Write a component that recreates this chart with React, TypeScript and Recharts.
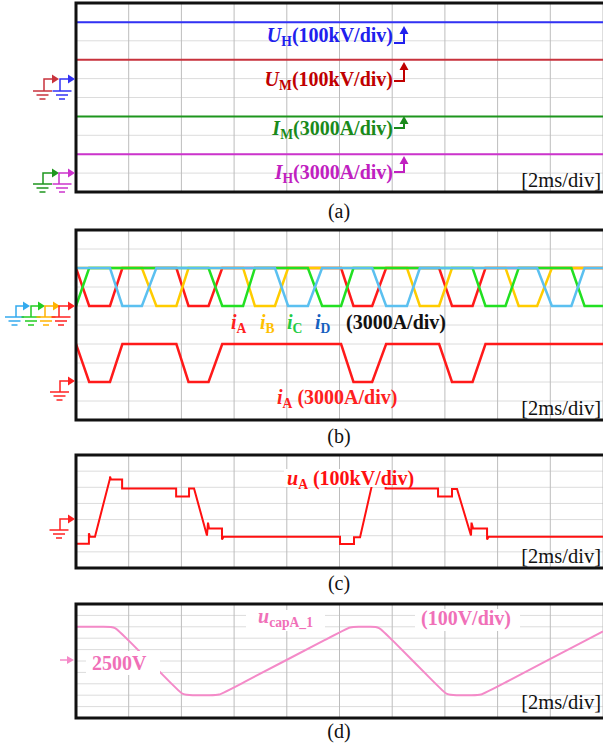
import React from 'react';
import { LineChart, Line, XAxis, YAxis, ReferenceLine } from 'recharts';

type Pt = [number, number];

// time axis: 2 ms/div, 10 div
const timeTicks = [0, 2, 4, 6, 8, 10, 12, 14, 16, 18, 20];

// (a) flat traces, [t ms, value]
const uH: Pt[] = [[0, 298], [20, 298]]; // kV
const uM: Pt[] = [[0, 100], [20, 100]]; // kV
const iM: Pt[] = [[0, 9000], [20, 9000]]; // A
const iH: Pt[] = [[0, 3000], [20, 3000]]; // A
const kvTicksA = [-600, -500, -400, -300, -200, -100, 0, 100, 200, 300, 400];

// (b) arm currents, A
const iA: Pt[] = [
  [0, 6000], [0.5, 0], [1.29, 0], [1.76, 6000], [3.81, 6000], [4.27, 0], [5.03, 0], [5.55, 6000],
  [10.06, 6000], [10.53, 0], [11.24, 0], [11.77, 6000], [13.78, 6000], [14.27, 0], [15.05, 0], [15.54, 6000], [20, 6000],
];
const iB: Pt[] = [
  [0, 6000], [2.5, 6000], [3.05, 0], [3.81, 0], [4.27, 6000], [6.34, 6000], [6.79, 0], [7.55, 0], [8.05, 6000],
  [12.56, 6000], [13.05, 0], [13.78, 0], [14.27, 6000], [16.3, 6000], [16.8, 0], [17.5, 0], [18.06, 6000], [20, 6000],
];
const iC: Pt[] = [
  [0, 0], [0.5, 6000], [5.03, 6000], [5.55, 0], [6.34, 0], [6.79, 6000], [8.8, 6000], [9.34, 0], [10.06, 0],
  [10.53, 6000], [15.05, 6000], [15.54, 0], [16.3, 0], [16.8, 6000], [18.8, 6000], [19.3, 0], [20, 0],
];
const iD: Pt[] = [
  [0, 6000], [1.29, 6000], [1.76, 0], [2.5, 0], [3.05, 6000], [7.55, 6000], [8.05, 0], [8.8, 0], [9.34, 6000],
  [11.24, 6000], [11.77, 0], [12.56, 0], [13.05, 6000], [17.5, 6000], [18.06, 0], [18.8, 0], [19.3, 6000], [20, 6000],
];
const aTicksB = [-18000, -15000, -12000, -9000, -6000, -3000, 0, 3000, 6000, 9000, 12000];

// (c) arm voltage, kV
const uA: Pt[] = [
  [0, -150], [0.49, -150], [0.49, -85], [0.53, -106], [0.72, -106], [1.29, 255], [1.29, 267], [1.33, 248],
  [1.75, 248], [1.75, 193], [3.8, 193], [3.8, 143], [4.29, 143], [4.29, 193], [4.48, 193], [4.97, -99],
  [5.01, -19], [5.05, -56], [5.54, -56], [5.54, -124], [5.6, -106], [10.02, -106], [10.02, -152], [10.55, -152],
  [10.55, -110], [10.78, -110], [11.29, 255], [11.29, 267], [11.33, 248], [11.75, 248], [11.75, 193], [13.74, 193],
  [13.74, 143], [14.27, 143], [14.27, 190], [14.46, 190], [14.99, -99], [15.01, -19], [15.07, -56], [15.6, -56],
  [15.6, -124], [15.66, -106], [20, -106],
];
const kvTicksC = [-300, -200, -100, 0, 100, 200, 300, 400];

// (d) capacitor voltage, V
const uCap: Pt[] = [
  [0, 2800], [1.2, 2800], [1.48, 2800], [1.76, 2735], [3.78, 2265], [4.06, 2200], [4.34, 2200], [5.15, 2200],
  [5.43, 2200], [5.71, 2234], [10.12, 2766], [10.4, 2800], [10.68, 2800], [11.22, 2800], [11.5, 2800],
  [11.78, 2735], [13.8, 2265], [14.08, 2200], [14.36, 2200], [15.09, 2200], [15.37, 2200], [15.65, 2234], [20, 2759],
];
const vTicksD = [2000, 2100, 2200, 2300, 2400, 2500, 2600, 2700, 2800, 2900, 3000];

const pts = (a: Pt[]) => a.map(([t, v]) => ({ t, v }));

const SERIF = '"Liberation Serif", "Times New Roman", serif';
const PINK = '#f48ac8';

const hidX = (
  <XAxis dataKey="t" type="number" domain={[0, 20]} ticks={timeTicks} height={0} tick={false}
    axisLine={false} tickLine={false} allowDataOverflow />
);

function yAx(id: string, domain: [number, number]) {
  return (
    <YAxis yAxisId={id} type="number" domain={domain} width={0} tick={false}
      axisLine={false} tickLine={false} allowDataOverflow />
  );
}

// scope graticule drawn through the axis scales
function grids(id: string, yTicks: number[]) {
  return [
    ...yTicks.map((v) => (
      <ReferenceLine key={'h' + v} yAxisId={id} y={v} stroke="#dcdcdc" strokeWidth={1} ifOverflow="extendDomain" />
    )),
    ...timeTicks.map((t) => (
      <ReferenceLine key={'v' + t} yAxisId={id} x={t} stroke="#bdbdbd" strokeWidth={1} ifOverflow="extendDomain" />
    )),
  ];
}

function trace(id: string, d: Pt[], color: string, w = 2, type: any = 'linear') {
  return (
    <Line yAxisId={id} data={pts(d)} dataKey="v" type={type} stroke={color} strokeWidth={w}
      dot={false} activeDot={false} isAnimationActive={false} />
  );
}

function Gnd({ x, y, c, vx, ay, tip }: { x: number; y: number; c: string; vx: number; ay: number; tip: number }) {
  return (
    <g stroke={c} strokeWidth={1.5} fill="none">
      <line x1={x - 9.5} y1={y} x2={x + 9.5} y2={y} />
      <line x1={x - 6} y1={y + 4} x2={x + 6} y2={y + 4} />
      <line x1={x - 3} y1={y + 8} x2={x + 3} y2={y + 8} />
      <path d={`M${vx} ${y} V${ay} H${tip - 6}`} />
      <polygon points={`${tip},${ay} ${tip - 7},${ay - 4.5} ${tip - 7},${ay + 4.5}`} fill={c} stroke="none" />
    </g>
  );
}

function StepArrow({ x, base, top, c }: { x: number; base: number; top: number; c: string }) {
  return (
    <g stroke={c} strokeWidth={2} fill="none">
      <path d={`M${x - 10} ${base} H${x} V${top + 6}`} />
      <polygon points={`${x},${top} ${x - 4.5},${top + 8} ${x + 4.5},${top + 8}`} fill={c} stroke="none" />
    </g>
  );
}

function Lbl({ x, y, c, main, sub, rest, anchor = 'start', size = 20 }: any) {
  return (
    <text x={x} y={y} fill={c} fontFamily={SERIF} fontWeight="bold" fontSize={size} textAnchor={anchor}>
      <tspan fontStyle="italic">{main}</tspan>
      <tspan dy={4} fontSize={size * 0.68}>{sub}</tspan>
      <tspan dy={-4}>{rest}</tspan>
    </text>
  );
}

const frames: [number, number][] = [[3, 192], [230, 420], [455, 568], [604, 718]];

export default function App() {
  return (
    <div style={{ position: 'absolute', left: 0, top: 0, width: 603, height: 746, overflow: 'hidden', background: '#fff' }}>
      {/* (a) */}
      <div style={{ position: 'absolute', left: 0, top: 0 }}>
        <LineChart width={603} height={195} margin={{ top: 3, right: 0, bottom: 3, left: 76 }}>
          {hidX}
          {yAx('kV', [-600, 400])}
          {yAx('A', [-3000, 27000])}
          {grids('kV', kvTicksA)}
          {trace('kV', uH, '#3232f5')}
          {trace('kV', uM, '#c8323c')}
          {trace('A', iM, '#1e961e')}
          {trace('A', iH, '#cc33cc')}
        </LineChart>
      </div>
      {/* (b) */}
      <div style={{ position: 'absolute', left: 0, top: 227 }}>
        <LineChart width={603} height={196} margin={{ top: 3, right: 0, bottom: 3, left: 76 }}>
          {hidX}
          {yAx('p', [-18000, 12000])}
          {yAx('q', [-6000, 24000])}
          {grids('p', aTicksB)}
          {trace('p', iA, '#ff1a1a', 2.5)}
          {trace('p', iB, '#ffcc00', 2.5)}
          {trace('p', iC, '#22e022', 2.5)}
          {trace('p', iD, '#5bc0f0', 2.5)}
          {trace('q', iA, '#ff1a1a', 2.5)}
        </LineChart>
      </div>
      {/* (c) */}
      <div style={{ position: 'absolute', left: 0, top: 452 }}>
        <LineChart width={603} height={119} margin={{ top: 3, right: 0, bottom: 3, left: 76 }}>
          {hidX}
          {yAx('kV', [-300, 400])}
          {grids('kV', kvTicksC)}
          {trace('kV', uA, '#ff1010', 2)}
        </LineChart>
      </div>
      {/* (d) */}
      <div style={{ position: 'absolute', left: 0, top: 601 }}>
        <LineChart width={603} height={120} margin={{ top: 3, right: 0, bottom: 3, left: 76 }}>
          {hidX}
          {yAx('V', [2000, 3000])}
          {grids('V', vTicksD)}
          {trace('V', uCap, PINK, 2, 'basis')}
        </LineChart>
      </div>

      <svg width={603} height={746} style={{ position: 'absolute', left: 0, top: 0, pointerEvents: 'none' }}>
        {frames.map(([t, b], i) => (
          <path key={i} d={`M605 ${t} H76 V${b} H605`} stroke="#111" strokeWidth={3} fill="none" />
        ))}

        {/* (a) markers and labels */}
        <Gnd x={42.5} y={91} c="#c8323c" vx={44} ay={79} tip={59} />
        <Gnd x={62} y={91} c="#3232f5" vx={60} ay={79} tip={75} />
        <Gnd x={42.5} y={184} c="#1e961e" vx={43} ay={173} tip={59} />
        <Gnd x={62} y={184} c="#cc33cc" vx={59} ay={173} tip={75} />
        <Lbl x={393} y={42} c="#2020ee" main="U" sub="H" rest="(100kV/div)" anchor="end" />
        <Lbl x={393} y={86} c="#c00000" main="U" sub="M" rest="(100kV/div)" anchor="end" />
        <Lbl x={393} y={135} c="#1a8a1a" main="I" sub="M" rest="(3000A/div)" anchor="end" />
        <Lbl x={393} y={179} c="#c020c0" main="I" sub="H" rest="(3000A/div)" anchor="end" />
        <StepArrow x={404} base={43} top={26} c="#2020ee" />
        <StepArrow x={404} base={81} top={62} c="#c00000" />
        <StepArrow x={404} base={128} top={116} c="#1a8a1a" />
        <StepArrow x={404} base={172} top={156} c="#c020c0" />

        {/* (b) */}
        <Gnd x={14.5} y={317} c="#33aaee" vx={16} ay={306} tip={30} />
        <Gnd x={31} y={317} c="#22cc22" vx={31} ay={306} tip={45} />
        <Gnd x={46} y={317} c="#ffb300" vx={45} ay={306} tip={60} />
        <Gnd x={61} y={317} c="#ff2020" vx={59} ay={306} tip={75} />
        <Gnd x={59.5} y={392} c="#ff2020" vx={60} ay={381} tip={75} />
        <Lbl x={231} y={329} c="#ff2020" main="i" sub="A" rest="" />
        <Lbl x={260} y={329} c="#ffc000" main="i" sub="B" rest="" />
        <Lbl x={287} y={329} c="#22cc44" main="i" sub="C" rest="" />
        <Lbl x={315} y={329} c="#1560c0" main="i" sub="D" rest="" />
        <text x={346} y={329} fill="#111" fontFamily={SERIF} fontWeight="bold" fontSize={20}>(3000A/div)</text>
        <Lbl x={277} y={404} c="#ff2020" main="i" sub="A" rest=" (3000A/div)" />

        {/* (c) */}
        <Gnd x={59} y={530} c="#ff2020" vx={60} ay={519} tip={75} />
        <rect x={284} y={469} width={104} height={18} fill="#fff" />
        <Lbl x={287} y={485} c="#ff1010" main="u" sub="A" rest=" (100kV/div)" />

        {/* (d) */}
        <g stroke={PINK} strokeWidth={1.5} fill={PINK}>
          <line x1={60} y1={660} x2={68} y2={660} />
          <polygon points="74,660 67,656 67,664" stroke="none" />
        </g>
        <rect x={86} y={651} width={74} height={24} fill="#fff" />
        <rect x={246} y={610} width={79} height={21} fill="#fff" />
        <rect x={415} y={609} width={105} height={22} fill="#fff" />
        <text x={92} y={670} fill="#f070b8" fontFamily={SERIF} fontWeight="bold" fontSize={20}>2500V</text>
        <Lbl x={258} y={623} c="#f070b8" main="u" sub="capA_1" rest="" />
        <text x={421} y={625} fill="#f070b8" fontFamily={SERIF} fontWeight="bold" fontSize={20}>(100V/div)</text>

        {/* time base and captions */}
        {[187, 415, 563, 709].map((y, i) => (
          <text key={i} x={601} y={y} textAnchor="end" fill="#111" fontFamily={SERIF} fontSize={20.5}>[2ms/div]</text>
        ))}
        {[['(a)', 218], ['(b)', 443], ['(c)', 590], ['(d)', 738]].map(([s, y]) => (
          <text key={s as string} x={339} y={y as number} textAnchor="middle" fill="#111" fontFamily={SERIF} fontSize={20}>{s}</text>
        ))}
      </svg>
    </div>
  );
}
